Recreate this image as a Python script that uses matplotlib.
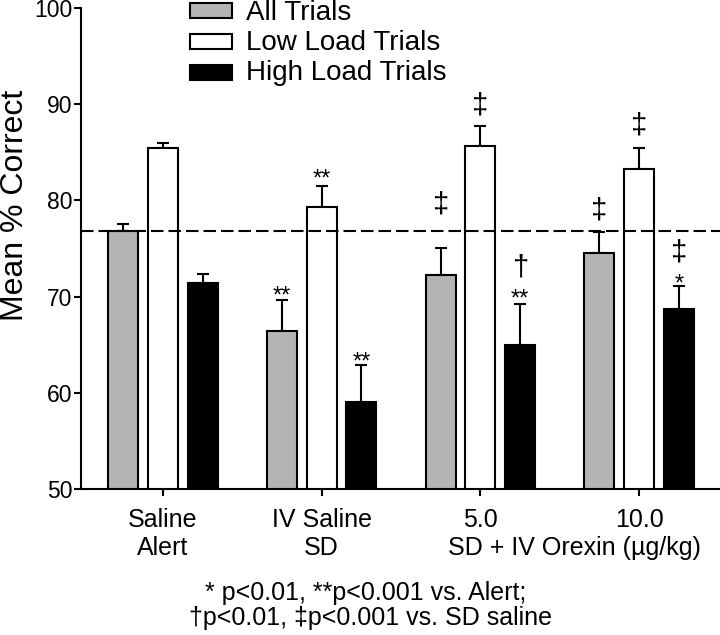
import numpy as np
import matplotlib.pyplot as plt
from matplotlib.patches import Rectangle

plt.rcParams['font.family'] = ['Liberation Sans', 'DejaVu Sans']

# datos
grupos = ["Saline\nAlert", "IV Saline\nSD", "5.0", "10.0"]
series = ["All Trials", "Low Load Trials", "High Load Trials"]
all_trials = [76.8, 66.4, 72.2, 74.5]
all_err = [0.7, 3.2, 2.8, 2.2]
low_load = [85.4, 79.3, 85.7, 83.3]
low_err = [0.6, 2.2, 2.0, 2.1]
high_load = [71.4, 59.0, 65.0, 68.7]
high_err = [0.9, 3.9, 4.2, 2.4]
linea_alerta = 76.8

# anotaciones: (grupo, serie, texto, y de la línea base)
marcas = [
    (1, 0, "**", 69.4), (1, 1, "**", 81.5), (1, 2, "**", 62.5),
    (2, 0, "\u2021", 78.7), (2, 1, "\u2021", 89.0),
    (2, 2, "\u2020", 72.2), (2, 2, "**", 69.1),
    (3, 0, "\u2021", 78.1), (3, 1, "\u2021", 87.0),
    (3, 2, "\u2021", 73.8), (3, 2, "*", 70.6),
]

colores = ["#b4b4b4", "white", "black"]
medias = [all_trials, low_load, high_load]
errores = [all_err, low_err, high_err]

W, H = 720, 635
fig = plt.figure(figsize=(7.2, 6.35), dpi=100)
ax = fig.add_axes([81 / W, 1 - 489 / H, 1 - 81 / W, (489 - 8) / H])

x = np.arange(len(grupos))
ancho = 0.19
desp = 0.25
for i in range(3):
    pos = x + (i - 1) * desp
    ax.bar(pos, np.array(medias[i]) - 50, bottom=50, width=ancho,
           color=colores[i], edgecolor="black", linewidth=1.5, zorder=3)
    ax.errorbar(pos, medias[i], yerr=[np.zeros(4), errores[i]], fmt="none",
                ecolor="black", elinewidth=1.5, capsize=4.3, capthick=1.5, zorder=2)

ax.axhline(linea_alerta, color="black", linestyle=(0, (6, 2.4)), linewidth=1.5, zorder=4)

for g, s, txt, yv in marcas:
    tam = 17 if "*" in txt else 21
    ax.text(x[g] + (s - 1) * desp, yv, txt, ha="center", va="baseline", fontsize=tam)

ax.set_xlim(-0.516, 3.51)
ax.set_ylim(50, 100)
ax.set_yticks([50, 60, 70, 80, 90, 100])
ax.set_xticks(x)
ax.set_xticklabels(["", "", "", ""])

# etiquetas del eje x (dos renglones)
trans = ax.get_xaxis_transform()
for g in range(4):
    partes = grupos[g].split("\n")
    ax.text(x[g], -(527 - 489) / 481, partes[0], transform=trans,
            ha="center", va="baseline", fontsize=18)
    if len(partes) > 1:
        ax.text(x[g], -(555 - 489) / 481, partes[1], transform=trans,
                ha="center", va="baseline", fontsize=18)
ax.text(2.594, -(555 - 489) / 481, "SD + IV Orexin (\u00b5g/kg)", transform=trans,
        ha="center", va="baseline", fontsize=18)

ax.tick_params(axis="y", labelsize=16.5, width=1.5, length=5, direction="out", pad=1)
ax.tick_params(axis="x", width=1.5, length=5, direction="out")
for lado in ["top", "right"]:
    ax.spines[lado].set_visible(False)
for lado in ["left", "bottom"]:
    ax.spines[lado].set_linewidth(1.5)

fig.text(15 / W, 1 - 205 / H, "Mean % Correct", rotation=90,
         ha="center", va="center", fontsize=23)

# leyenda
filas = [(10.5, 20), (41, 49.5), (72.5, 79.5)]
for (yc, yb), c, nombre in zip(filas, colores, series):
    fig.add_artist(Rectangle((190 / W, 1 - (yc + 7.5) / H), 42 / W, 15 / H,
                             transform=fig.transFigure, facecolor=c,
                             edgecolor="black", linewidth=1.5))
    fig.text(246 / W, 1 - yb / H, nombre, ha="left", va="baseline", fontsize=20)

fig.text(365.5 / W, 1 - 600 / H, "* p<0.01, **p<0.001 vs. Alert;",
         ha="center", va="baseline", fontsize=18)
fig.text(371 / W, 1 - 625 / H, "\u2020p<0.01, \u2021p<0.001 vs. SD saline",
         ha="center", va="baseline", fontsize=18)

fig.savefig("out.png", dpi=100)
